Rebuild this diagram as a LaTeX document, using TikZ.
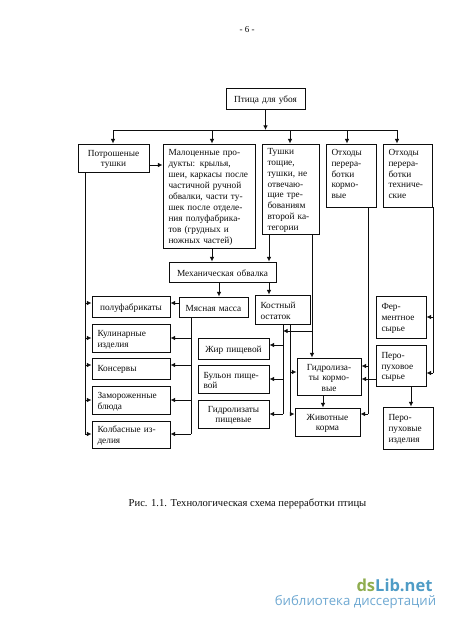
\documentclass[tikz,border=0pt]{standalone}
\usepackage{fontspec}
\setmainfont{Liberation Serif}
\newfontfamily\wmfont{Open Sans}
\usetikzlibrary{arrows.meta,calc}
\definecolor{ink}{gray}{0.05}
\definecolor{wmgreen}{HTML}{8FAD4F}
\definecolor{wmblue}{HTML}{4F9CC6}
\definecolor{wmlight}{HTML}{6FA9D2}
\tikzset{
  box/.style={draw=ink,line width=0.95pt,inner sep=0pt,text=ink,font=\fontsize{9.3}{10.9}\selectfont},
  lt/.style={align=left},
  ctr/.style={align=center},
  link/.style={draw=ink,line width=0.95pt},
  arr/.style={link,-{Latex[length=4.6pt,width=4.6pt]}},
  captext/.style={text=ink,inner sep=0pt,font=\fontsize{10.6}{12}\selectfont}
}
% name, x1, y1, x2, y2, style, text
\newcommand{\bx}[7]{%
  \pgfmathsetmacro{\bw}{#4-#2}%
  \pgfmathsetmacro{\bh}{#5-#3}%
  \pgfmathsetmacro{\tw}{#4-#2-11}%
  \pgfmathsetmacro{\cx}{(#4+#2)/2}%
  \pgfmathsetmacro{\cy}{(#5+#3)/2}%
  \node[box,#6,minimum width=\bw pt,minimum height=\bh pt,text width=\tw pt] (#1) at (\cx,\cy) {\rule{0pt}{9pt}#7};%
}
\newcommand{\lift}[1]{\rule[-#1pt]{0pt}{0pt}}
\begin{document}
\begin{tikzpicture}[x=1pt,y=-1pt]
\useasboundingbox (0,0) rectangle (450,622);
\fill[white] (0,0) rectangle (450,622);
\node[captext,font=\fontsize{9}{10}\selectfont] (page) at (247,30) {- 6 -};

\bx{top}{226}{88}{305}{109}{ctr}{Птица для убоя}
\bx{pot}{78}{144}{149}{172}{ctr}{Потрошеные\\тушки}
\bx{mal}{163}{144}{255}{248}{lt}{Малоценные про-\\дукты: крылья,\\шеи, каркасы после\\частичной ручной\\обвалки, части ту-\\шек после отделе-\\ния полуфабрика-\\тов (грудных и\\ножных частей)}
\bx{tus}{262}{144}{319}{234}{lt}{Тушки\\тощие,\\тушки, не\\отвечаю-\\щие тре-\\бованиям\\второй ка-\\тегории}
\bx{okr}{326}{144}{376}{207}{lt}{Отходы\\перера-\\ботки\\кормо-\\вые\lift{6}}
\bx{ote}{383}{144}{432}{207}{lt}{Отходы\\перера-\\ботки\\техниче-\\ские\lift{6}}
\bx{meh}{169}{262}{276}{282}{ctr}{Механическая обвалка}
\bx{mya}{179}{297}{248}{317}{ctr}{Мясная масса}
\bx{kos}{255}{295}{310}{324}{lt}{Костный\\остаток}
\bx{pf}{92}{296}{170}{317}{ctr}{полуфабрикаты}
\bx{kul}{92}{324}{170}{352}{lt}{Кулинарные\\изделия}
\bx{kon}{92}{358}{170}{379}{lt}{Консервы\lift{3}}
\bx{zam}{92}{386}{170}{414}{lt}{Замороженные\\блюда}
\bx{kol}{92}{421}{170}{448}{lt}{Колбасные из-\\делия}
\bx{zhi}{198}{338}{269}{359}{ctr}{Жир пищевой}
\bx{bul}{198}{365}{269}{393}{lt}{Бульон пище-\\вой}
\bx{gip}{198}{400}{269}{428}{ctr}{Гидролизаты\\пищевые}
\bx{gik}{297}{358}{361}{395}{ctr}{Гидролиза-\\ты кормо-\\вые}
\bx{zhk}{295}{408}{360}{436}{ctr}{Животные\\корма}
\bx{fer}{376}{296}{426}{338}{lt}{Фер-\\ментное\\сырье}
\bx{pes}{376}{345}{426}{386}{lt}{Перо-\\пуховое\\сырье}
\bx{pei}{383}{407}{433}{449}{lt}{Перо-\\пуховые\\изделия}

\node[captext] (caption) at (247.5,504) {Рис. 1.1. Технологическая схема переработки птицы};

% guide coordinates
\foreach \v in {85,113,191,212,219,269,283,290,312,323,347,368,397,411,433}
  \coordinate (x\v) at (\v,0);
\foreach \v in {130,165,303,317,331,338,345,365,366,372,373,379,400,414,434}
  \coordinate (y\v) at (0,\v);
\coordinate (bus) at (top.south |- y130);

% top bus
\draw[arr] (top.south) -- (bus);
\draw[link] (x113 |- y130) -- (x397 |- y130);
\draw[arr] (x113 |- y130) -- (x113 |- pot.north);
\draw[arr] (x212 |- y130) -- (x212 |- mal.north);
\draw[arr] (x290 |- y130) -- (x290 |- tus.north);
\draw[arr] (x347 |- y130) -- (x347 |- okr.north);
\draw[arr] (x397 |- y130) -- (x397 |- ote.north);

\draw[arr] (pot.east |- y165) -- (mal.west |- y165);
\draw[arr] (x212 |- mal.south) -- (x212 |- meh.north);
\draw[arr] (x269 |- tus.south) -- (x269 |- meh.north);
\draw[arr] (x219 |- meh.south) -- (x219 |- mya.north);
\draw[arr] (x269 |- meh.south) -- (x269 |- kos.north);
\draw[arr] (mya.west |- y303) -- (pf.east |- y303);

% left trunk
\draw[link] (x85 |- pot.south) -- (x85 |- y434);
\draw[arr] (x85 |- y303) -- (pf.west |- y303);
\draw[arr] (x85 |- y338) -- (kul.west |- y338);
\draw[arr] (x85 |- y365) -- (kon.west |- y365);
\draw[arr] (x85 |- y400) -- (zam.west |- y400);
\draw[arr] (x85 |- y434) -- (kol.west |- y434);

% meat trunk
\draw[link] (x191 |- mya.south) -- (x191 |- y434);
\draw[arr] (x191 |- y338) -- (kul.east |- y338);
\draw[arr] (x191 |- y365) -- (kon.east |- y365);
\draw[arr] (x191 |- y400) -- (zam.east |- y400);
\draw[arr] (x191 |- y434) -- (kol.east |- y434);

% bone trunks
\draw[link] (x283 |- kos.south) -- (x283 |- y414);
\draw[arr] (x283 |- y345) -- (zhi.east |- y345);
\draw[arr] (x283 |- y379) -- (bul.east |- y379);
\draw[arr] (x283 |- y414) -- (gip.east |- y414);
\draw[link] (x290 |- kos.south) -- (x290 |- y414);
\draw[arr] (x290 |- y372) -- (gik.west |- y372);
\draw[arr] (x290 |- y414) -- (zhk.west |- y414);

% thin carcasses to hydrolysates
\draw[arr] (x312 |- tus.south) -- (x312 |- gik.north);
\draw[arr] (x312 |- y331) -- (x283 |- y331);
\draw[arr] (x323 |- gik.south) -- (x323 |- zhk.north);

% feed waste
\draw[link] (x368 |- okr.south) -- (x368 |- y414);
\draw[arr] (x368 |- y366) -- (gik.east |- y366);
\draw[arr] (x368 |- y414) -- (zhk.east |- y414);

% technical waste
\draw[link] (x433 |- ote.south) -- (x433 |- y373);
\draw[arr] (x433 |- y317) -- (fer.east |- y317);
\draw[arr] (x433 |- y373) -- (pes.east |- y373);
\draw[arr] (pes.west |- y379) -- (gik.east |- y379);
\draw[arr] (x411 |- pes.south) -- (x411 |- pei.north);

% watermark
\node[inner sep=0pt,font=\wmfont\bfseries\fontsize{16.5}{18}\selectfont] (wm1) at (394.5,585) {\textcolor{wmgreen}{ds}\textcolor{wmblue}{Lib.net}};
\node[inner sep=0pt,text=wmlight,font=\wmfont\fontsize{13.2}{15}\selectfont] (wm2) at (355.5,602) {библиотека диссертаций};
\end{tikzpicture}
\end{document}
